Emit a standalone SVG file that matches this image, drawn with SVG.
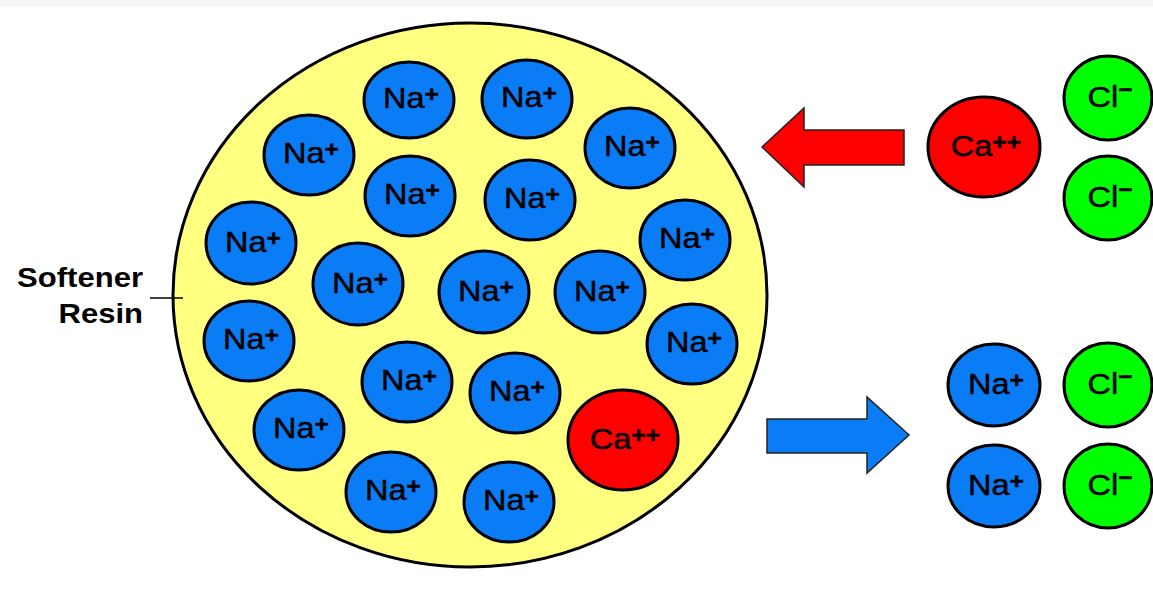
<svg xmlns="http://www.w3.org/2000/svg" width="1153" height="589" viewBox="0 0 1153 589">
<style>
.na{fill:#0a7cf5;stroke:#000;stroke-width:3}
.ca{fill:#ff0000;stroke:#000;stroke-width:3}
.cl{fill:#00ff00;stroke:#000;stroke-width:3}
.lbl{font-family:"Liberation Sans",Arial,sans-serif;font-size:29px;fill:#000;stroke:#000;stroke-width:0.5;text-anchor:middle}
.sup{font-size:22px;font-weight:bold}
.side{font-family:"Liberation Sans",Arial,sans-serif;font-size:27px;font-weight:bold;fill:#000;text-anchor:end}
.arrow{stroke:#222;stroke-width:1.5}
</style>
<rect x="0" y="0" width="1153" height="589" fill="#ffffff"/>
<rect x="0" y="0" width="1153" height="7" fill="#f6f6f6"/>
<g id="resin">
<ellipse cx="470" cy="295" rx="297" ry="272" fill="#ffff80" stroke="#000" stroke-width="3"/>
</g>
<g id="resin-label">
<text class="side" transform="translate(143 287) scale(1.15 1)">Softener</text>
<text class="side" transform="translate(143 323) scale(1.15 1)">Resin</text>
</g>
<g id="connectors">
<line x1="150" y1="298" x2="183" y2="298" stroke="#000" stroke-width="1.5"/>
<polygon id="arrow-in" class="arrow" fill="#ff0000" points="762,147 804,108 804,130 904,130 904,165 804,165 804,187"/>
<polygon id="arrow-out" class="arrow" fill="#0a7cf5" points="767,419 867,419 867,397 909,435 867,473 867,453 767,453"/>
</g>
<g id="na1"><ellipse class="na" cx="409" cy="100" rx="45" ry="38"/><text class="lbl" transform="translate(411 108) scale(1.12 1)">Na<tspan class="sup" dy="-6">+</tspan></text></g>
<g id="na2"><ellipse class="na" cx="527" cy="99" rx="45" ry="39"/><text class="lbl" transform="translate(529 107) scale(1.12 1)">Na<tspan class="sup" dy="-6">+</tspan></text></g>
<g id="na3"><ellipse class="na" cx="630" cy="148" rx="45" ry="40"/><text class="lbl" transform="translate(632 156) scale(1.12 1)">Na<tspan class="sup" dy="-6">+</tspan></text></g>
<g id="na4"><ellipse class="na" cx="309" cy="155" rx="45" ry="40"/><text class="lbl" transform="translate(311 163) scale(1.12 1)">Na<tspan class="sup" dy="-6">+</tspan></text></g>
<g id="na5"><ellipse class="na" cx="410" cy="196" rx="45" ry="40"/><text class="lbl" transform="translate(412 204) scale(1.12 1)">Na<tspan class="sup" dy="-6">+</tspan></text></g>
<g id="na6"><ellipse class="na" cx="530" cy="200" rx="45" ry="40"/><text class="lbl" transform="translate(532 208) scale(1.12 1)">Na<tspan class="sup" dy="-6">+</tspan></text></g>
<g id="na7"><ellipse class="na" cx="685" cy="240" rx="45" ry="40"/><text class="lbl" transform="translate(687 248) scale(1.12 1)">Na<tspan class="sup" dy="-6">+</tspan></text></g>
<g id="na8"><ellipse class="na" cx="251" cy="243" rx="45" ry="41"/><text class="lbl" transform="translate(253 252) scale(1.12 1)">Na<tspan class="sup" dy="-6">+</tspan></text></g>
<g id="na9"><ellipse class="na" cx="358" cy="284" rx="45" ry="41"/><text class="lbl" transform="translate(360 293) scale(1.12 1)">Na<tspan class="sup" dy="-6">+</tspan></text></g>
<g id="na10"><ellipse class="na" cx="484" cy="292" rx="45" ry="41"/><text class="lbl" transform="translate(486 301) scale(1.12 1)">Na<tspan class="sup" dy="-6">+</tspan></text></g>
<g id="na11"><ellipse class="na" cx="600" cy="292" rx="45" ry="41"/><text class="lbl" transform="translate(602 301) scale(1.12 1)">Na<tspan class="sup" dy="-6">+</tspan></text></g>
<g id="na12"><ellipse class="na" cx="692" cy="344" rx="45" ry="40"/><text class="lbl" transform="translate(694 352) scale(1.12 1)">Na<tspan class="sup" dy="-6">+</tspan></text></g>
<g id="na13"><ellipse class="na" cx="249" cy="341" rx="45" ry="40"/><text class="lbl" transform="translate(251 349) scale(1.12 1)">Na<tspan class="sup" dy="-6">+</tspan></text></g>
<g id="na14"><ellipse class="na" cx="407" cy="382" rx="45" ry="40"/><text class="lbl" transform="translate(409 390) scale(1.12 1)">Na<tspan class="sup" dy="-6">+</tspan></text></g>
<g id="na15"><ellipse class="na" cx="515" cy="393" rx="45" ry="40"/><text class="lbl" transform="translate(517 401) scale(1.12 1)">Na<tspan class="sup" dy="-6">+</tspan></text></g>
<g id="na16"><ellipse class="na" cx="299" cy="430" rx="45" ry="40"/><text class="lbl" transform="translate(301 438) scale(1.12 1)">Na<tspan class="sup" dy="-6">+</tspan></text></g>
<g id="ca-resin"><ellipse class="ca" cx="623" cy="440" rx="55" ry="50"/><text class="lbl" transform="translate(625 449) scale(1.12 1)">Ca<tspan class="sup" dy="-6">++</tspan></text></g>
<g id="na17"><ellipse class="na" cx="391" cy="492" rx="45" ry="40"/><text class="lbl" transform="translate(393 500) scale(1.12 1)">Na<tspan class="sup" dy="-6">+</tspan></text></g>
<g id="na18"><ellipse class="na" cx="509" cy="502" rx="45" ry="40"/><text class="lbl" transform="translate(511 510) scale(1.12 1)">Na<tspan class="sup" dy="-6">+</tspan></text></g>
<g id="ca-in"><ellipse class="ca" cx="984" cy="147" rx="56" ry="50"/><text class="lbl" transform="translate(986 156) scale(1.12 1)">Ca<tspan class="sup" dy="-6">++</tspan></text></g>
<g id="cl1"><ellipse class="cl" cx="1108" cy="98" rx="44" ry="42"/><text class="lbl" transform="translate(1110 107) scale(1.12 1)">Cl<tspan class="sup" dy="-10">−</tspan></text></g>
<g id="cl2"><ellipse class="cl" cx="1108" cy="198" rx="44" ry="42"/><text class="lbl" transform="translate(1110 207) scale(1.12 1)">Cl<tspan class="sup" dy="-10">−</tspan></text></g>
<g id="na-out1"><ellipse class="na" cx="994" cy="385" rx="46" ry="41"/><text class="lbl" transform="translate(996 394) scale(1.12 1)">Na<tspan class="sup" dy="-6">+</tspan></text></g>
<g id="cl3"><ellipse class="cl" cx="1108" cy="385" rx="44" ry="42"/><text class="lbl" transform="translate(1110 394) scale(1.12 1)">Cl<tspan class="sup" dy="-10">−</tspan></text></g>
<g id="na-out2"><ellipse class="na" cx="994" cy="486" rx="46" ry="41"/><text class="lbl" transform="translate(996 495) scale(1.12 1)">Na<tspan class="sup" dy="-6">+</tspan></text></g>
<g id="cl4"><ellipse class="cl" cx="1108" cy="486" rx="44" ry="42"/><text class="lbl" transform="translate(1110 495) scale(1.12 1)">Cl<tspan class="sup" dy="-10">−</tspan></text></g>
</svg>
